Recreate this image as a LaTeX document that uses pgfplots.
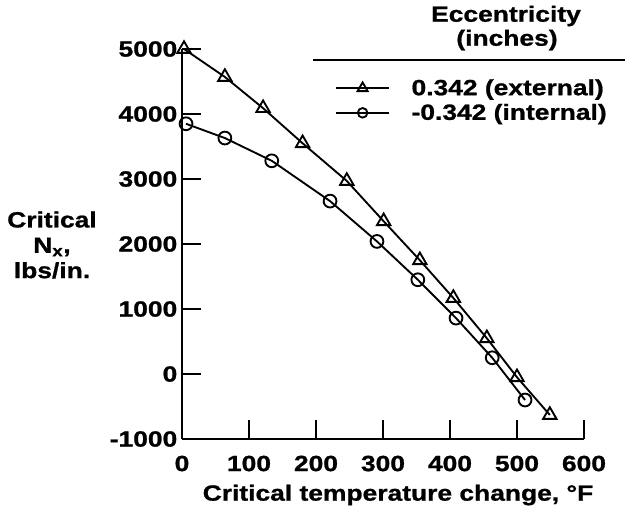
\documentclass[border=0pt]{standalone}
\usepackage{pgfplots}
\pgfplotsset{compat=1.18}
\usepackage{fontspec}
\setmainfont{Liberation Sans}[FakeStretch=1.2, BoldFeatures={FakeBold=1}]
\newcommand\lf{\bfseries\fontsize{16.5}{19}\selectfont}

\begin{document}
\begin{tikzpicture}
\path[use as bounding box] (-136.5pt,-60pt) rectangle (334.5pt,329.25pt);
\begin{axis}[
    at={(0pt,0pt)}, anchor=south west,
    width=301.5pt, height=292.5pt, scale only axis,
    xmin=0, xmax=600, ymin=-1000, ymax=5000,
    axis lines*=left,
    axis line style={-, line width=1.6pt},
    xtick={0,100,200,300,400,500,600},
    xticklabels={0,100,200,300,400,500,600},
    ytick={-1000,0,1000,2000,3000,4000,5000},
    yticklabels={-1000,0,1000,2000,3000,4000,5000},
    tick align=inside, major tick length=14pt,
    tick style={line width=1.4pt, black},
    ticklabel style={font=\lf},
    xticklabel style={yshift=-9pt},
    clip=false,
    legend cell align=left,
    legend style={draw=none, fill=none, font=\lf,
        at={(rel axis cs:0.38,0.93)}, anchor=north west,
        row sep=1pt, column sep=14pt, inner sep=0pt},
    legend image code/.code={
        \draw[mark repeat=2, mark phase=2, every mark/.append style={scale=0.75}]
            plot coordinates {(0pt,0pt) (20pt,0pt) (40pt,0pt)};},
]
\addplot[black, line width=1.4pt, mark=triangle, mark size=5.8pt,
    mark options={fill=white, solid}] coordinates {
    (3,5000) (64,4570) (121,4090) (180,3550) (246,2970) (301,2350)
    (355,1750) (405,1170) (455,550) (500,-50) (549,-630)};
\addlegendentry{0.342 (external)}
\addplot[black, line width=1.4pt, mark=o, mark size=4.8pt,
    mark options={fill=white, solid}] coordinates {
    (6,3850) (64,3630) (134,3280) (221,2660) (291,2040) (352,1450)
    (409,860) (463,250) (512,-400)};
\addlegendentry{-0.342 (internal)}
\end{axis}
\node[font=\lf, align=center] at (-97.5pt,145.5pt) {Critical\\N\textsubscript{x},\\lbs/in.};
\node[font=\lf] at (162pt,-42pt) {Critical temperature change, °F};
\node[font=\lf] at (243pt,317.25pt) {Eccentricity};
\node[font=\lf] at (243.75pt,299.25pt) {(inches)};
\draw[line width=1.4pt] (98.25pt,284.25pt) -- (332.25pt,284.25pt);
\end{tikzpicture}
\end{document}
